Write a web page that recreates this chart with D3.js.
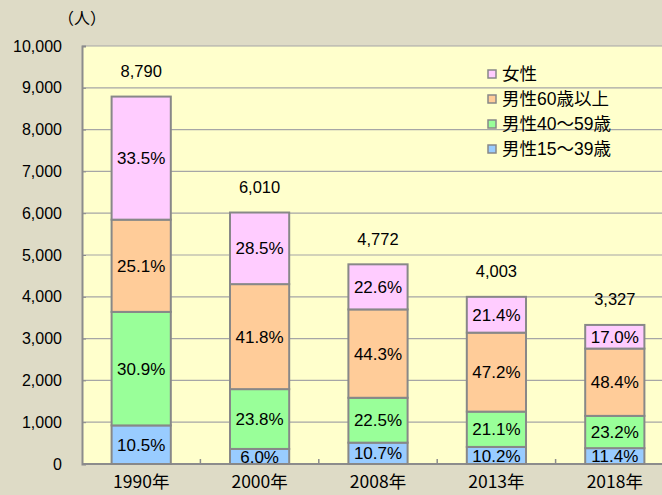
<!DOCTYPE html>
<html><head><meta charset="utf-8">
<script src="https://cdn.jsdelivr.net/npm/d3@7"></script>
<style>
body{margin:0;background:#DEDBC6;}
svg{display:block;}
text{fill:#000;}
</style></head><body>
<svg id="c" width="662" height="495"></svg>
<script>
const years = ["1990年","2000年","2008年","2013年","2018年"];
const totals = [8790, 6010, 4772, 4003, 3327];
const seriesNames = ["男性15～39歳","男性40～59歳","男性60歳以上","女性"];
const pctYoung = [10.5, 6.0, 10.7, 10.2, 11.4];
const pctMid = [30.9, 23.8, 22.5, 21.1, 23.2];
const pctOld = [25.1, 41.8, 44.3, 47.2, 48.4];
const pctFemale = [33.5, 28.5, 22.6, 21.4, 17.0];
const yTicks = [0,1000,2000,3000,4000,5000,6000,7000,8000,9000,10000];
const colors = ["#99CCFF","#99FF99","#FFCC99","#FFCCFF"];

const pcts = [pctYoung, pctMid, pctOld, pctFemale];
const rows = years.map((y,i)=>{
  const r = {year:y, total:totals[i]};
  seriesNames.forEach((s,k)=>{ r[s] = totals[i]*pcts[k][i]/100; r["p"+k]=pcts[k][i]; });
  return r;
});
const stacked = d3.stack().keys(seriesNames)(rows);

const svg = d3.select("#c");
const L=82, T=46, B=464, R=674;
const x = d3.scaleBand().domain(years).range([L,R]).paddingInner(0.5).paddingOuter(0.25);
const y = d3.scaleLinear().domain([0,10000]).range([B,T]);

svg.append("rect").attr("x",L).attr("y",T).attr("width",R-L).attr("height",B-T).attr("fill","#FFFFCC");

// gridlines
svg.append("g").selectAll("line").data(yTicks.filter(d=>d>0)).join("line")
  .attr("x1",L).attr("x2",R).attr("y1",d=>y(d)).attr("y2",d=>y(d))
  .attr("stroke","#A6A6A6").attr("stroke-width",1.2);

// y axis
const ya = svg.append("g").attr("transform",`translate(${L},0)`)
  .call(d3.axisLeft(y).tickValues(yTicks).tickFormat(d3.format(",")).tickSize(-4).tickPadding(20));
ya.select(".domain").attr("stroke","#8C8C8C").attr("stroke-width",2);
ya.selectAll(".tick line").attr("stroke","#8C8C8C");
ya.selectAll("text").attr("font-family","Liberation Sans, Arial, sans-serif").attr("font-size",16).attr("fill","#000");

// x axis
const xa = svg.append("g").attr("transform",`translate(0,${B})`)
  .call(d3.axisBottom(x).tickSize(0).tickPadding(15));
xa.select(".domain").attr("d",`M${L},0H${R}`).attr("stroke","#8C8C8C").attr("stroke-width",2);
xa.selectAll("text").attr("font-family","Liberation Sans Narrow, Noto Sans CJK JP, sans-serif").attr("font-size",17.5).attr("fill","#000").attr("dy","0.5em");
// category boundary ticks (inside)
const step = x.step();
svg.append("g").selectAll("line").data(years.slice(1)).join("line")
  .attr("x1",d=>x(d)-step*0.25).attr("x2",d=>x(d)-step*0.25)
  .attr("y1",B).attr("y2",B-5).attr("stroke","#8C8C8C").attr("stroke-width",1.5);

// bars
const g = svg.append("g");
stacked.forEach((layer,k)=>{
  g.append("g").selectAll("rect").data(layer).join("rect")
    .attr("x",d=>x(d.data.year)).attr("width",x.bandwidth())
    .attr("y",d=>y(d[1])).attr("height",d=>y(d[0])-y(d[1]))
    .attr("fill",colors[k]).attr("stroke","#888").attr("stroke-width",2);
});
stacked.forEach((layer,k)=>{
  g.append("g").selectAll("text").data(layer).join("text")
    .attr("x",d=>x(d.data.year)+x.bandwidth()/2)
    .attr("y",d=>Math.min((y(d[0])+y(d[1]))/2, B-7))
    .attr("dy","0.36em").attr("text-anchor","middle")
    .attr("font-family","Liberation Sans Narrow, Arial Narrow, sans-serif").attr("font-size",17)
    .text(d=>d3.format(".1f")(d.data["p"+k])+"%");
});
// totals
svg.append("g").selectAll("text").data(rows).join("text")
  .attr("x",d=>x(d.year)+x.bandwidth()/2).attr("y",d=>y(d.total)-20)
  .attr("text-anchor","middle").attr("font-family","Liberation Sans, Arial, sans-serif").attr("font-size",16.5)
  .text(d=>d3.format(",")(d.total));

// unit
svg.append("text").attr("x",58).attr("y",24).attr("font-family","Noto Sans CJK JP, sans-serif").attr("font-size",16).text("（人）");

// legend
const legOrder = [3,2,1,0];
const lg = svg.append("g");
legOrder.forEach((k,i)=>{
  const cy = 74 + i*25;
  lg.append("rect").attr("x",488).attr("y",cy-4).attr("width",8).attr("height",8)
    .attr("fill",colors[k]).attr("stroke","#888").attr("stroke-width",1.5);
  lg.append("text").attr("x",502).attr("y",cy).attr("dy","0.36em")
    .attr("font-family","Liberation Sans, Noto Sans CJK JP, sans-serif").attr("font-size",17.5)
    .text(seriesNames[k]);
});
</script></body></html>
